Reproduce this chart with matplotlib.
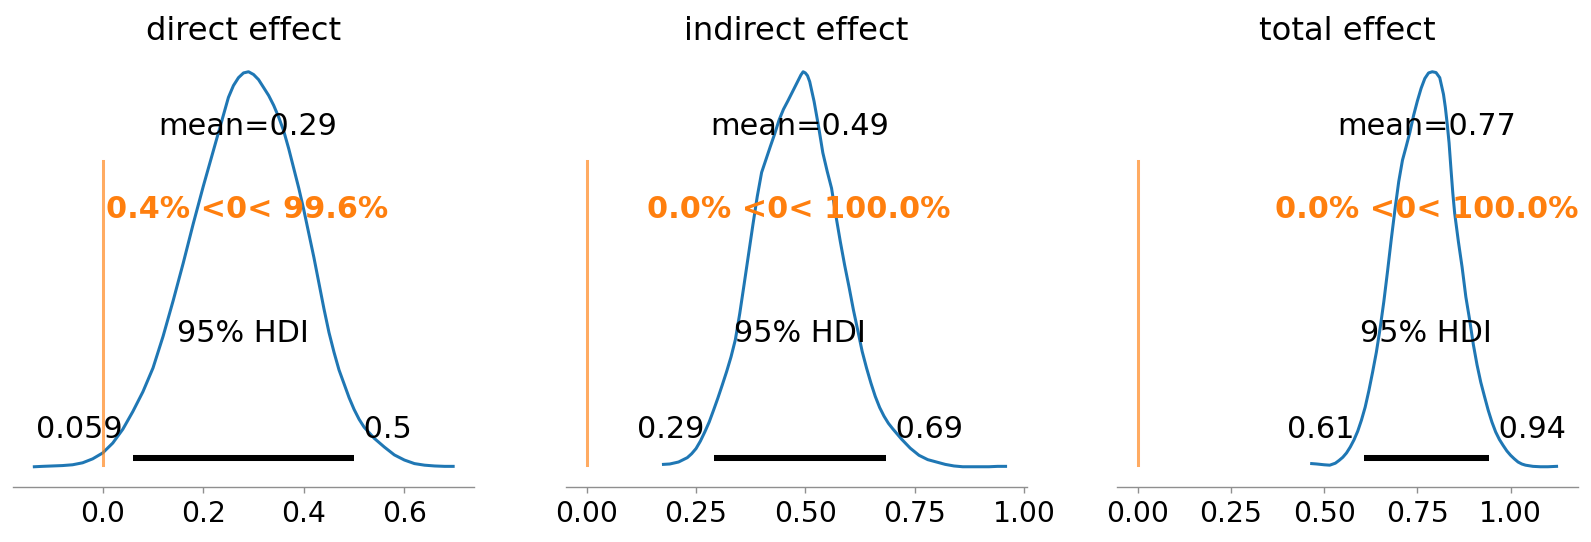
import matplotlib
matplotlib.use("Agg")
import matplotlib.pyplot as plt

titles = ["direct effect", "indirect effect", "total effect"]

# KDE curves: x and density relative to each curve's peak
direct_x = [-0.136, -0.12, -0.10, -0.08, -0.06, -0.04, -0.02, 0.00, 0.02, 0.04,
            0.06, 0.08, 0.10, 0.12, 0.14, 0.16, 0.18, 0.20, 0.22, 0.24,
            0.25, 0.26, 0.27, 0.28, 0.29, 0.30, 0.31, 0.32, 0.33, 0.34,
            0.35, 0.36, 0.37, 0.38, 0.39, 0.40, 0.41, 0.42, 0.43, 0.44,
            0.45, 0.46, 0.47, 0.48, 0.49, 0.50, 0.51, 0.52, 0.54, 0.56,
            0.58, 0.60, 0.62, 0.64, 0.66, 0.68, 0.697]
direct_d = [0.000, 0.001, 0.002, 0.003, 0.005, 0.010, 0.020, 0.035, 0.060, 0.095,
            0.140, 0.190, 0.250, 0.330, 0.420, 0.515, 0.615, 0.710, 0.800, 0.890,
            0.935, 0.965, 0.985, 0.997, 1.000, 0.993, 0.980, 0.960, 0.940, 0.915,
            0.885, 0.850, 0.805, 0.755, 0.705, 0.650, 0.590, 0.530, 0.465, 0.400,
            0.340, 0.290, 0.245, 0.210, 0.175, 0.145, 0.120, 0.100, 0.072, 0.050,
            0.030, 0.017, 0.008, 0.004, 0.002, 0.001, 0.001]

indirect_x = [0.1755, 0.19, 0.21, 0.23, 0.24, 0.25, 0.26, 0.27, 0.28, 0.29,
              0.30, 0.31, 0.32, 0.33, 0.34, 0.35, 0.36, 0.37, 0.38, 0.39,
              0.40, 0.41, 0.42, 0.43, 0.44, 0.45, 0.46, 0.47, 0.48, 0.49,
              0.495, 0.50, 0.505, 0.51, 0.52, 0.53, 0.54, 0.55, 0.56, 0.57,
              0.58, 0.59, 0.60, 0.61, 0.62, 0.63, 0.64, 0.65, 0.66, 0.67,
              0.68, 0.69, 0.70, 0.72, 0.74, 0.76, 0.78, 0.80, 0.82, 0.84,
              0.86, 0.88, 0.90, 0.92, 0.94, 0.958]
indirect_d = [0.006, 0.007, 0.012, 0.023, 0.033, 0.046, 0.065, 0.088, 0.113, 0.143,
              0.174, 0.207, 0.241, 0.278, 0.322, 0.388, 0.462, 0.537, 0.612, 0.684,
              0.745, 0.778, 0.811, 0.843, 0.878, 0.905, 0.926, 0.948, 0.970, 0.992,
              1.000, 0.997, 0.990, 0.975, 0.925, 0.863, 0.795, 0.748, 0.705, 0.635,
              0.570, 0.510, 0.455, 0.397, 0.345, 0.292, 0.250, 0.212, 0.178, 0.150,
              0.128, 0.110, 0.096, 0.070, 0.047, 0.029, 0.018, 0.012, 0.006, 0.002,
              0.000, 0.000, 0.000, 0.000, 0.001, 0.001]

total_x = [0.4665, 0.48, 0.50, 0.515, 0.53, 0.54, 0.55, 0.56, 0.57, 0.58,
           0.59, 0.60, 0.61, 0.62, 0.63, 0.64, 0.65, 0.66, 0.67, 0.68,
           0.69, 0.70, 0.71, 0.72, 0.73, 0.74, 0.75, 0.76, 0.77, 0.78,
           0.79, 0.80, 0.81, 0.82, 0.825, 0.83, 0.835, 0.84, 0.845, 0.85,
           0.86, 0.87, 0.88, 0.89, 0.90, 0.91, 0.92, 0.93, 0.94, 0.95,
           0.96, 0.97, 0.98, 0.99, 1.00, 1.01, 1.02, 1.03, 1.04, 1.06,
           1.08, 1.10, 1.1233]
total_d = [0.008, 0.007, 0.005, 0.004, 0.009, 0.016, 0.024, 0.035, 0.050, 0.068,
           0.090, 0.118, 0.151, 0.193, 0.240, 0.290, 0.350, 0.418, 0.495, 0.576,
           0.652, 0.722, 0.776, 0.811, 0.847, 0.890, 0.926, 0.958, 0.983, 0.997,
           1.000, 0.998, 0.985, 0.943, 0.910, 0.868, 0.820, 0.755, 0.693, 0.642,
           0.570, 0.505, 0.430, 0.373, 0.310, 0.258, 0.214, 0.178, 0.143, 0.113,
           0.088, 0.069, 0.054, 0.040, 0.029, 0.020, 0.012, 0.007, 0.004, 0.001,
           0.000, 0.000, 0.001]

means = [0.288, 0.486, 0.774]
hdi_low = [0.0594, 0.2915, 0.6067]
hdi_high = [0.4996, 0.6854, 0.9418]
ref_val = 0.0
ref_below = ["0.4%", "0.0%", "0.0%"]
ref_above = ["99.6%", "100.0%", "100.0%"]
hdi_prob = "95%"

xs = [direct_x, indirect_x, total_x]
ds = [direct_d, indirect_d, total_d]

scale = 1.45
ax_labelsize = 15 * scale
titlesize = 16 * scale
xt_labelsize = 14 * scale
lw = 1.5 * scale

fig = plt.figure(figsize=(15.91, 5.42), dpi=100)
lefts = [13.4 / 1591, 565.8 / 1591, 1116.8 / 1591]
width = 460.7 / 1591
bottom = (542 - 486.5) / 542
height = 434.5 / 542

for i in range(3):
    ax = fig.add_axes([lefts[i], bottom, width, height])
    ax.plot(xs[i], ds[i], color="C0", lw=lw)
    ax.axvline(ref_val, ymin=0.05, ymax=0.75, lw=lw, alpha=0.65, color="C1")
    plot_height = ax.get_ylim()[1]
    # point estimate
    ax.text(means[i], plot_height * 0.8, f"mean={means[i]:.2g}",
            size=ax_labelsize, ha="center")
    # reference value text
    ax.text(means[i], plot_height * 0.6,
            f"{ref_below[i]} <{ref_val:g}< {ref_above[i]}",
            size=ax_labelsize, weight="semibold", ha="center", color="C1")
    # HDI bar and labels
    ax.plot([hdi_low[i], hdi_high[i]], [plot_height * 0.02, plot_height * 0.02],
            lw=lw * 2, color="k", solid_capstyle="butt")
    ax.text(hdi_low[i], plot_height * 0.07, f"{hdi_low[i]:.2g} ",
            size=ax_labelsize, ha="right")
    ax.text(hdi_high[i], plot_height * 0.07, f" {hdi_high[i]:.2g}",
            size=ax_labelsize, ha="left")
    ax.text((hdi_low[i] + hdi_high[i]) / 2, plot_height * 0.3, f"{hdi_prob} HDI",
            size=ax_labelsize, ha="center")
    ax.set_title(titles[i], fontsize=titlesize, pad=8.6)
    for s in ["left", "right", "top"]:
        ax.spines[s].set_visible(False)
    ax.spines["bottom"].set_color("#8f8f8f")
    ax.spines["bottom"].set_linewidth(1.0)
    ax.get_yaxis().set_visible(False)
    ax.tick_params(axis="x", labelsize=xt_labelsize, color="#8f8f8f",
                   length=4.5, width=1.0, pad=5)
    ax.set_facecolor("white")

fig.savefig("out.png", dpi=100, facecolor="white")
